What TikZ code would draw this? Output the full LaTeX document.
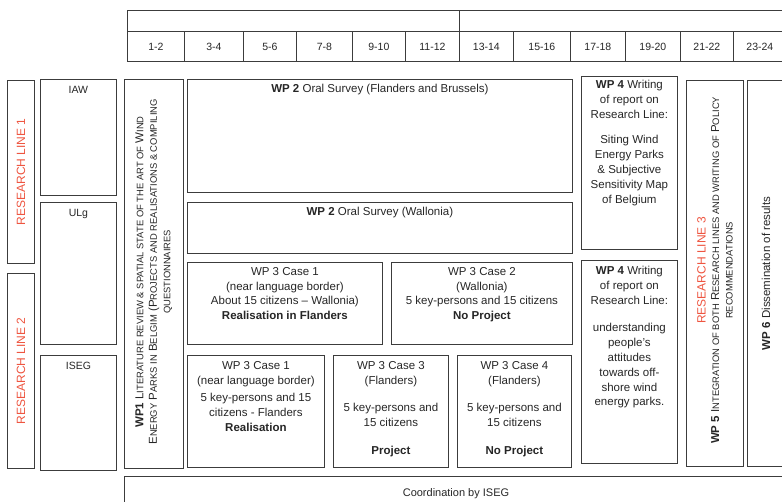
\documentclass[tikz,border=0pt]{standalone}
\usepackage{fontspec}
\setmainfont{Liberation Sans}
\usetikzlibrary{positioning}

\definecolor{linegray}{HTML}{3C3C3C}
\definecolor{rlred}{HTML}{EE5540}
% fake small caps: first letter at full size, the rest smaller
\newcommand{\fsc}[2]{#1{\fontsize{9.4}{11}\selectfont #2}}

\begin{document}
\begin{tikzpicture} [
            x=1pt, y=-1pt,
            box/.style={draw=linegray, line width=0.8pt, inner sep=0pt, anchor=north west},
            txt/.style={align=center, inner sep=0pt, text=black!85, font=\fontsize{11.5}{14.8}\selectfont},
            hdr/.style={text=black!85, font=\fontsize{10.5}{12}\selectfont},
            inst/.style={txt, anchor=north, font=\fontsize{10.5}{12}\selectfont},
            rline/.style={txt, text=rlred, rotate=90, font=\fontsize{12}{14}\selectfont},
            wpsc/.style={txt, rotate=90, font=\fontsize{11.5}{13.5}\selectfont}
          ]
\useasboundingbox (0,0) rectangle (782,502);

% time line in months
\node (top1) [box, minimum width=332, minimum height=21] at (127,10) {};
\node (top2) [box, minimum width=327, minimum height=21] at (459,10) {};
\foreach \xa/\xb/\lab [count=\i] in {127/184/1-2, 184/243/3-4, 243/296/5-6, 296/352/7-8,
    352/405/9-10, 405/459/11-12, 459/513/13-14, 513/570/15-16, 570/625/17-18,
    625/680/19-20, 680/733/21-22, 733/786/23-24}
  \node (m\i) [box, hdr, minimum width={\xb-\xa}, minimum height=30] at (\xa,31) {\lab};

% research lines and partners
\node (rl1) [box, minimum width=27, minimum height=183] at (7,80) {};
\node (rl2) [box, minimum width=27, minimum height=195] at (7,273) {};
\node (rl1t) [rline] at (rl1.center) {RESEARCH LINE 1};
\node (rl2t) [rline] at (rl2.center) {RESEARCH LINE 2};

\node (iaw) [box, minimum width=76, minimum height=116] at (40,79) {};
\node (ulg) [box, minimum width=76, minimum height=142] at (40,202) {};
\node (iseg) [box, minimum width=76, minimum height=115] at (40,355) {};
\node (iawt) [inst] at ([yshift=-7pt]iaw.north) {IAW};
\node (ulgt) [inst] at ([yshift=-7pt]ulg.north) {ULg};
\node (isegt) [inst] at ([yshift=-7pt]iseg.north) {ISEG};

% WP1
\node (wp1) [box, minimum width=59, minimum height=389] at (124,79) {};
\node (wp1t) [wpsc] at ([yshift=2pt]wp1.center)
  {\textbf{WP1} \fsc{L}{ITERATURE REVIEW \& SPATIAL STATE OF THE ART OF} \fsc{W}{IND}\\
   \fsc{E}{NERGY} \fsc{P}{ARKS IN} \fsc{B}{ELGIM} (\fsc{P}{ROJECTS AND REALISATIONS \& COMPILING}\\
   \fsc{}{QUESTIONNAIRES}};

% WP2
\node (oral1) [box, minimum width=385, minimum height=113] at (187,79) {};
\node (oral2) [box, minimum width=385, minimum height=51] at (187,202) {};
\node (oral1t) [txt, anchor=north] at ([yshift=-5pt]oral1.north) {\textbf{WP 2} Oral Survey (Flanders and Brussels)};
\node (oral2t) [txt, anchor=north] at ([yshift=-5pt]oral2.north) {\textbf{WP 2} Oral Survey (Wallonia)};

% WP3 cases
\node (case1a) [box, minimum width=195, minimum height=82] at (187,262) {};
\node (case2) [box, minimum width=181, minimum height=82] at (391,262) {};
\node (case1b) [box, minimum width=137, minimum height=112] at (187,355) {};
\node (case3) [box, minimum width=115, minimum height=112] at (333,355) {};
\node (case4) [box, minimum width=114, minimum height=112] at (457,355) {};

\node (case1at) [txt, anchor=north] at ([yshift=-5pt]case1a.north)
  {WP 3 Case 1\\(near language border)\\About 15 citizens -- Wallonia)\\\textbf{Realisation in Flanders}};
\node (case2t) [txt, anchor=north] at ([yshift=-5pt]case2.north)
  {WP 3 Case 2\\(Wallonia)\\5 key-persons and 15 citizens\\\textbf{No Project}};
\node (case1bt) [txt, anchor=north] at ([yshift=-6pt]case1b.north)
  {WP 3 Case 1\\(near language border)\\[3pt]5 key-persons and 15\\citizens - Flanders\\\textbf{Realisation}};
\node (case3t) [txt, anchor=north] at ([yshift=-6pt]case3.north)
  {WP 3 Case 3\\(Flanders)\\[13pt]5 key-persons and\\15 citizens\\[13pt]\textbf{Project}};
\node (case4t) [txt, anchor=north] at ([yshift=-6pt]case4.north)
  {WP 3 Case 4\\(Flanders)\\[13pt]5 key-persons and\\15 citizens\\[13pt]\textbf{No Project}};

% WP4 reports
\node (wp4a) [box, minimum width=96, minimum height=173] at (581,76) {};
\node (wp4b) [box, minimum width=96, minimum height=203] at (581,260) {};
\node (wp4at) [txt, anchor=north] at ([yshift=-4pt]wp4a.north)
  {\textbf{WP 4} Writing\\of report on\\Research Line:\\[11pt]Siting Wind\\Energy Parks\\\& Subjective\\Sensitivity Map\\of Belgium};
\node (wp4bt) [txt, anchor=north] at ([yshift=-6pt]wp4b.north)
  {\textbf{WP 4} Writing\\of report on\\Research Line:\\[13pt]understanding\\people's\\attitudes\\towards off-\\shore wind\\energy parks.};

% WP5 and WP6
\node (wp5) [box, minimum width=57, minimum height=386] at (686,80) {};
\node (wp6) [box, minimum width=39, minimum height=386] at (747,80) {};
\node (wp5t) [wpsc] at ([yshift=3pt]wp5.center)
  {{\color{rlred}\fontsize{12}{14}\selectfont RESEARCH LINE 3}\\
   \textbf{WP 5} \fsc{I}{NTEGRATION OF BOTH} \fsc{R}{ESEARCH LINES AND WRITING OF} \fsc{P}{OLICY}\\
   \fsc{}{RECOMMENDATIONS}};
\node (wp6t) [txt, rotate=90] at ([xshift=-1pt]wp6.center) {\textbf{WP 6} Dissemination of results};

% coordination
\node (coord) [box, minimum width=662, minimum height=40] at (124,476) {};
\node (coordt) [txt, font=\fontsize{11}{13}\selectfont] at (456,494) {Coordination by ISEG};
\end{tikzpicture}
\end{document}
